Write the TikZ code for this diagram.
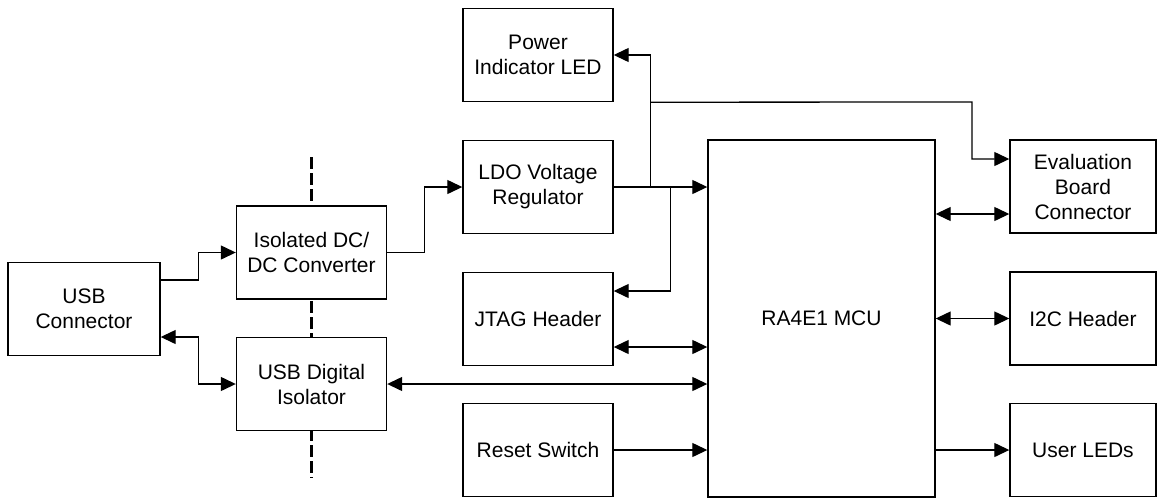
\documentclass[tikz,border=0pt]{standalone}
\usepackage{fontspec}
\setmainfont{Liberation Sans}
\usetikzlibrary{arrows.meta}

\begin{document}
\begin{tikzpicture}[x=1pt,y=-1pt,
	blk/.style={draw,fill=white,line width=1.4pt,minimum width=150pt,minimum height=93pt,inner sep=0pt,align=center,font=\fontsize{21}{25}\selectfont},
	arr/.style={line width=1.3pt,-{Triangle[length=15pt,width=14pt]}},
	biarr/.style={line width=1.3pt,{Triangle[length=15pt,width=14pt]}-{Triangle[length=15pt,width=14pt]}}]
	\useasboundingbox (0,0) rectangle (1157,499);
	\draw[line width=2.2pt,dash pattern=on 12pt off 4pt] (311.5,157) -- (311.5,478);
	
	\node[blk,minimum width=152pt] (usb) at (84,309) {USB\\Connector};
	\node[blk] (dcdc) at (311.5,252.5) {Isolated DC/\\DC Converter};
	\node[blk] (iso) at (311.5,384) {USB Digital\\Isolator};
	\node[blk] (pled) at (538,55) {Power\\Indicator LED};
	\node[blk] (ldo) at (538,187) {LDO Voltage\\Regulator};
	\node[blk] (jtag) at (538,319) {JTAG Header};
	\node[blk] (reset) at (538,450) {Reset Switch};
	\node[blk,minimum width=227pt,minimum height=357pt] (mcu) at (821.5,318.5) {RA4E1 MCU};
	\node[blk,minimum width=146pt] (eval) at (1083,186.5) {Evaluation\\Board\\Connector};
	\node[blk,minimum width=146pt] (i2c) at (1083,318.5) {I2C Header};
	\node[blk,minimum width=146pt] (leds) at (1083,450) {User LEDs};
	
	\coordinate (j1) at ([xshift=37pt]ldo.east);
	\coordinate (j2) at ([xshift=57pt]ldo.east);
	\coordinate (j3) at (972,102);
	\coordinate (e2) at ([yshift=-27.5pt]eval.west);
	
	\draw[arr] ([yshift=29pt]usb.east) -- ++(38,0) |- (dcdc.west);
	\draw[biarr] ([yshift=-28pt]usb.east) -- ++(38,0) |- (iso.west);
	\draw[biarr] (iso.east) -- (iso.east -| mcu.west);
	\draw[arr] (dcdc.east) -- ++(37,0) |- (ldo.west);
	\draw[arr] (ldo.east) -- (ldo.east -| mcu.west);
	\draw[arr] (j1) |- (pled.east);
	\draw[arr] (j1 |- pled.south) -- (j3) |- ([yshift=27.5pt]eval.west);
	\draw[arr] (j2) |- ([yshift=28pt]jtag.east);
	\draw[biarr] ([yshift=-28pt]jtag.east) -- ([yshift=-28pt]jtag.east -| mcu.west);
	\draw[arr] (reset.east) -- (reset.east -| mcu.west);
	\draw[biarr] (mcu.east |- e2) -- (e2);
	\draw[biarr] (mcu.east |- i2c.west) -- (i2c.west);
	\draw[arr] (mcu.east |- leds.west) -- (leds.west);
\end{tikzpicture}
\end{document}
